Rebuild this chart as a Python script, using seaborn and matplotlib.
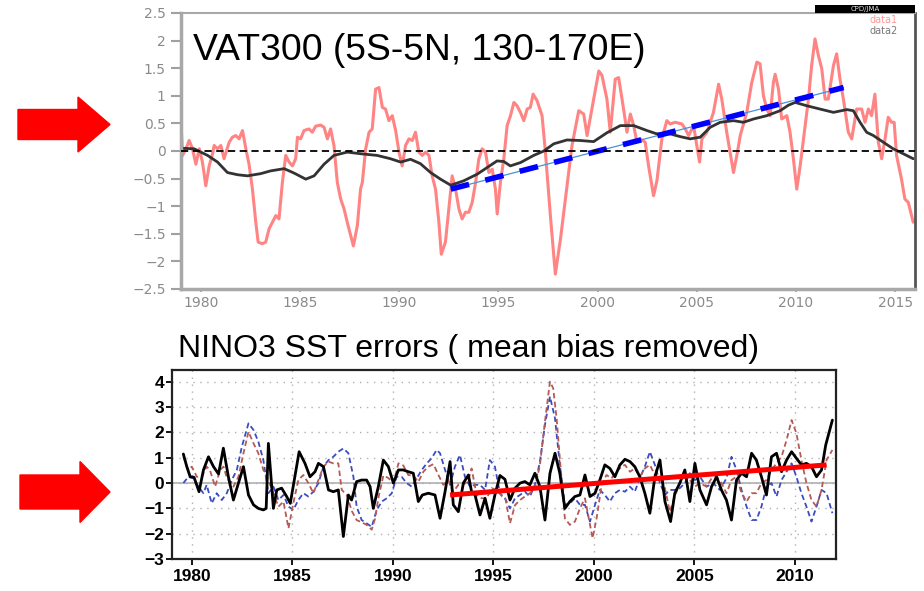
import matplotlib
matplotlib.use('Agg')
import matplotlib.pyplot as plt
import seaborn as sns
from matplotlib.patches import FancyArrow, Rectangle
from matplotlib.transforms import IdentityTransform

# ---------------- data: top panel (VAT300) ----------------
top_red_year = [1979.0, 1979.08, 1979.25, 1979.41, 1979.58, 1979.75, 1979.92, 1980.08, 1980.25, 1980.42,
                1980.59, 1980.67, 1980.84, 1981.01, 1981.17, 1981.43, 1981.59, 1981.76, 1981.93, 1982.1,
                1982.27, 1982.43, 1982.6, 1982.77, 1982.89, 1983.1, 1983.27, 1983.44, 1983.61, 1983.78,
                1983.94, 1984.11, 1984.28, 1984.45, 1984.62, 1984.78, 1984.87, 1985.03, 1985.2, 1985.45,
                1985.62, 1985.79, 1986.04, 1986.21, 1986.38, 1986.54, 1986.71, 1986.88, 1987.05, 1987.22,
                1987.38, 1987.55, 1987.69, 1987.89, 1988.05, 1988.14, 1988.31, 1988.48, 1988.64, 1988.81,
                1988.98, 1989.15, 1989.31, 1989.48, 1989.65, 1989.82, 1989.99, 1990.15, 1990.32, 1990.49,
                1990.66, 1990.82, 1990.99, 1991.16, 1991.33, 1991.5, 1991.66, 1991.83, 1992.0, 1992.12,
                1992.33, 1992.5, 1992.67, 1992.84, 1993.01, 1993.17, 1993.34, 1993.51, 1993.68, 1993.85,
                1994.01, 1994.18, 1994.35, 1994.52, 1994.69, 1994.85, 1994.94, 1995.1, 1995.27, 1995.44,
                1995.61, 1995.78, 1995.94, 1996.11, 1996.28, 1996.45, 1996.61, 1996.75, 1996.95, 1997.2,
                1997.37, 1997.62, 1997.87, 1998.13, 1998.46, 1998.71, 1999.05, 1999.3, 1999.47, 1999.8,
                2000.06, 2000.22, 2000.47, 2000.64, 2000.89, 2001.06, 2001.31, 2001.48, 2001.65, 2001.82,
                2001.98, 2002.15, 2002.4, 2002.57, 2002.82, 2002.99, 2003.24, 2003.49, 2003.66, 2003.91,
                2004.25, 2004.42, 2004.59, 2004.84, 2005.0, 2005.14, 2005.26, 2005.51, 2005.84, 2006.1,
                2006.26, 2006.51, 2006.68, 2006.85, 2007.02, 2007.19, 2007.52, 2007.77, 2008.03, 2008.19,
                2008.36, 2008.53, 2008.7, 2008.86, 2008.95, 2009.12, 2009.28, 2009.54, 2009.7, 2009.87,
                2010.04, 2010.21, 2010.38, 2010.63, 2010.79, 2010.96, 2011.13, 2011.3, 2011.47, 2011.63,
                2011.89, 2012.05, 2012.22, 2012.39, 2012.64, 2012.81, 2013.06, 2013.31, 2013.48, 2013.65,
                2013.81, 2013.98, 2014.15, 2014.32, 2014.49, 2014.65, 2014.82, 2014.95, 2015.07, 2015.32,
                2015.49, 2015.66, 2015.91]
top_red_val = [0.52, -0.08, 0.04, 0.19, 0.04, -0.24, 0.04, -0.2, -0.63, -0.27,
               -0.05, 0.1, 0.04, 0.1, -0.14, 0.16, 0.25, 0.28, 0.22, 0.37,
               0.04, -0.24, -0.69, -1.29, -1.65, -1.68, -1.65, -1.41, -1.29, -1.17,
               -1.23, -0.57, -0.08, -0.2, -0.27, -0.14, 0.25, 0.22, 0.37, 0.4,
               0.34, 0.45, 0.47, 0.43, 0.22, 0.4, 0.1, -0.57, -0.87, -1.05,
               -1.29, -1.53, -1.72, -1.35, -0.69, -0.57, 0.04, 0.34, 0.4, 1.12,
               1.15, 0.79, 0.76, 0.55, 0.64, 0.37, -0.02, -0.27, 0.1, 0.22,
               0.19, 0.34, -0.02, -0.08, -0.02, -0.08, -0.45, -0.69, -1.29, -1.87,
               -1.65, -1.05, -0.45, -0.69, -1.05, -1.23, -1.11, -1.11, -0.93, -0.57,
               -0.15, 0.04, -0.02, -0.39, -0.33, -0.69, -1.14, -0.57, -0.15, 0.46,
               0.64, 0.88, 0.82, 0.7, 0.55, 0.76, 0.79, 1.03, 0.91, 0.64,
               -0.02, -1.17, -2.23, -1.59, -0.63, 0.1, 0.73, 0.67, 0.28, 0.94,
               1.45, 1.37, 0.94, 0.34, 1.3, 1.33, 0.76, 0.34, 0.67, 0.46,
               0.16, 0.22, 0.16, -0.27, -0.81, -0.54, 0.22, 0.55, 0.49, 0.52,
               0.49, 0.4, 0.28, 0.46, 0.1, -0.2, 0.22, 0.34, 0.7, 1.21,
               0.94, 0.34, -0.02, -0.39, -0.08, 0.28, 0.7, 1.24, 1.61, 1.58,
               1.0, 0.76, 0.64, 1.24, 1.39, 1.12, 0.58, 0.64, 0.34, -0.14,
               -0.69, -0.27, 0.22, 0.94, 1.55, 2.03, 1.73, 1.49, 0.94, 0.94,
               1.55, 1.76, 1.3, 0.94, 0.34, 0.22, 0.76, 0.76, 0.52, 0.76,
               0.64, 1.03, 0.16, -0.14, 0.22, 0.61, 0.52, 0.52, -0.08, -0.51,
               -0.87, -0.93, -1.29]

top_black_year = [1979.0, 1979.66, 1980.34, 1980.84, 1981.34, 1981.85, 1982.35, 1983.02, 1983.52, 1984.2,
                  1984.7, 1985.29, 1985.71, 1986.21, 1986.71, 1987.38, 1988.06, 1988.89, 1989.56, 1990.07,
                  1990.57, 1991.07, 1991.58, 1992.08, 1992.6, 1993.25, 1993.93, 1994.43, 1994.93, 1995.27,
                  1995.6, 1996.11, 1996.78, 1997.29, 1997.79, 1998.46, 1999.13, 1999.8, 2000.47, 2001.15,
                  2001.82, 2002.49, 2002.99, 2003.66, 2004.17, 2004.67, 2005.17, 2005.68, 2006.18, 2006.85,
                  2007.35, 2007.86, 2008.53, 2009.2, 2009.62, 2009.96, 2010.54, 2011.21, 2011.89, 2012.56,
                  2012.89, 2013.23, 2013.56, 2013.9, 2014.4, 2014.9, 2015.41, 2015.91]
top_black_val = [0.05, 0.04, -0.08, -0.2, -0.39, -0.43, -0.45, -0.41, -0.36, -0.32,
                 -0.4, -0.51, -0.45, -0.24, -0.08, -0.02, -0.05, -0.08, -0.14, -0.2,
                 -0.15, -0.23, -0.39, -0.51, -0.62, -0.54, -0.42, -0.3, -0.18, -0.19,
                 -0.27, -0.21, -0.08, 0.0, 0.13, 0.2, 0.19, 0.17, 0.33, 0.46,
                 0.46, 0.37, 0.31, 0.31, 0.26, 0.22, 0.25, 0.43, 0.52, 0.55,
                 0.52, 0.58, 0.64, 0.73, 0.83, 0.88, 0.82, 0.76, 0.7, 0.75,
                 0.73, 0.52, 0.34, 0.28, 0.16, 0.04, -0.05, -0.14]

top_trend_year = [1992.6, 2012.4]
top_trend_val = [-0.69, 1.15]

top_yticks = [-2.5, -2, -1.5, -1, -0.5, 0, 0.5, 1, 1.5, 2, 2.5]
top_ylabels = ['\u22122.5', '\u22122', '\u22121.5', '\u22121', '\u22120.5', '0', '0.5', '1', '1.5', '2', '2.5']
top_xticks = [1980, 1985, 1990, 1995, 2000, 2005, 2010, 2015]

# ---------------- data: bottom panel (NINO3 SST errors) ----------------
bot_black_year = [1979.58, 1979.75, 1979.92, 1980.11, 1980.36, 1980.58, 1980.83, 1981.08, 1981.33, 1981.57,
                  1981.82, 1982.07, 1982.32, 1982.57, 1982.82, 1983.07, 1983.31, 1983.56, 1983.7, 1983.81,
                  1984.06, 1984.23, 1984.47, 1984.72, 1984.9, 1985.34, 1985.63, 1985.88, 1986.13, 1986.3,
                  1986.55, 1986.8, 1987.04, 1987.29, 1987.54, 1987.79, 1987.95, 1988.2, 1988.45, 1988.7,
                  1988.87, 1989.03, 1989.28, 1989.53, 1989.78, 1990.03, 1990.28, 1990.52, 1990.77, 1991.02,
                  1991.27, 1991.47, 1991.77, 1992.1, 1992.35, 1992.6, 1992.85, 1993.01, 1993.26, 1993.51,
                  1993.76, 1993.92, 1994.09, 1994.34, 1994.59, 1994.83, 1995.08, 1995.33, 1995.58, 1995.83,
                  1996.08, 1996.33, 1996.57, 1996.82, 1997.07, 1997.32, 1997.57, 1997.82, 1998.07, 1998.31,
                  1998.56, 1998.81, 1999.06, 1999.31, 1999.56, 1999.81, 2000.06, 2000.3, 2000.55, 2000.8,
                  2001.05, 2001.3, 2001.55, 2001.8, 2002.04, 2002.29, 2002.54, 2002.79, 2003.04, 2003.29,
                  2003.54, 2003.82, 2004.03, 2004.28, 2004.53, 2004.78, 2005.03, 2005.28, 2005.61, 2005.86,
                  2006.11, 2006.35, 2006.6, 2006.85, 2007.1, 2007.35, 2007.6, 2007.85, 2008.09, 2008.34,
                  2008.59, 2008.84, 2009.09, 2009.34, 2009.59, 2009.84, 2010.08, 2010.33, 2010.58, 2010.83,
                  2011.08, 2011.33, 2011.54, 2011.87]
bot_black_val = [1.15, 0.65, 0.25, 0.23, -0.34, 0.52, 1.04, 0.65, 0.36, 1.38,
                 0.25, -0.67, 0.0, 0.65, -0.47, -0.86, -1.0, -1.06, -1.0, 1.57,
                 -1.0, -0.27, -0.2, -0.53, -0.8, 1.24, 0.78, 0.25, 0.45, 0.78,
                 0.65, -0.27, -0.34, -0.27, -2.11, -0.47, -0.67, 0.06, 0.12, 0.12,
                 -0.14, -1.0, -0.14, 0.91, 0.65, 0.0, 0.52, 0.52, 0.45, 0.39,
                 -0.73, -0.47, -0.4, -0.47, -1.39, -0.34, 0.85, -0.86, -1.13, 0.0,
                 0.32, -0.34, -0.47, -1.26, -0.6, -1.39, -0.47, 0.3, 0.15, -0.67,
                 -0.2, 0.0, 0.06, -0.07, 0.39, -0.14, -1.46, 0.39, 1.18, 0.39,
                 -1.0, -0.73, -0.53, -0.47, 0.32, -0.53, -0.4, 0.12, 0.72, 0.58,
                 0.25, 0.72, 0.94, 0.85, 0.65, 0.25, -0.4, -1.19, 0.25, 0.91,
                 -0.73, -1.52, -0.4, 0.0, 0.52, -0.73, 0.78, -0.27, -0.86, -0.14,
                 0.25, -0.27, -0.67, -1.46, 0.12, 0.39, 0.25, 1.18, 0.91, 0.25,
                 -0.47, 1.04, 1.18, 0.45, 0.91, 1.24, 0.98, 0.72, 0.78, 0.65,
                 0.25, 0.52, 1.51, 2.49]

bot_red_year = [1979.58, 1979.83, 1980.0, 1980.25, 1980.5, 1980.74, 1980.9, 1981.16, 1981.41, 1981.58,
                1981.75, 1982.07, 1982.32, 1982.57, 1982.82, 1983.07, 1983.31, 1983.56, 1983.81, 1984.06,
                1984.31, 1984.56, 1984.81, 1985.05, 1985.3, 1985.55, 1985.8, 1986.05, 1986.3, 1986.55,
                1986.8, 1987.04, 1987.29, 1987.46, 1987.71, 1987.96, 1988.2, 1988.45, 1988.7, 1988.95,
                1989.12, 1989.28, 1989.53, 1989.78, 1990.03, 1990.28, 1990.52, 1990.77, 1991.02, 1991.27,
                1991.52, 1991.77, 1992.02, 1992.27, 1992.51, 1992.76, 1993.01, 1993.26, 1993.51, 1993.76,
                1993.92, 1994.17, 1994.42, 1994.67, 1994.92, 1995.17, 1995.41, 1995.6, 1995.83, 1996.08,
                1996.33, 1996.57, 1996.82, 1997.07, 1997.32, 1997.57, 1997.82, 1997.98, 1998.15, 1998.31,
                1998.56, 1998.81, 1999.06, 1999.31, 1999.56, 1999.81, 1999.94, 2000.14, 2000.39, 2000.63,
                2000.88, 2001.13, 2001.38, 2001.55, 2001.8, 2002.04, 2002.29, 2002.54, 2002.79, 2003.04,
                2003.29, 2003.54, 2003.78, 2004.03, 2004.28, 2004.53, 2004.78, 2005.03, 2005.28, 2005.61,
                2005.86, 2006.11, 2006.35, 2006.6, 2006.85, 2007.1, 2007.35, 2007.6, 2007.85, 2008.09,
                2008.34, 2008.59, 2008.84, 2009.09, 2009.34, 2009.59, 2009.84, 2010.08, 2010.33, 2010.58,
                2010.83, 2011.08, 2011.33, 2011.58, 2011.87]
bot_red_val = [1.04, 0.52, 0.65, 0.25, 0.25, 0.65, 0.52, -0.14, 0.52, 0.65,
               0.19, -0.14, 0.25, 1.18, 2.03, 1.57, 1.18, 0.52, 0.12, -0.4,
               -0.93, -0.73, -1.79, -0.8, 0.12, 0.32, 0.0, -0.4, 0.12, 0.65,
               0.85, 0.78, 0.78, -0.27, -0.47, -1.1, -1.46, -1.55, -1.65, -1.84,
               -1.4, -0.6, 0.3, 0.2, 0.0, 0.78, 0.7, 0.32, 0.3, 0.05,
               0.45, 0.65, 0.75, 0.32, -0.07, 0.12, -0.34, -0.07, -0.07, 0.12,
               0.58, -0.47, -0.6, -0.6, -0.2, -0.27, -0.5, -0.6, -1.59, -0.87,
               -0.67, -0.53, -0.4, -0.2, 0.72, 2.43, 4.01, 3.75, 2.56, 0.98,
               -1.39, -1.65, -1.52, -1.0, -0.6, -1.65, -2.18, -1.39, -0.07, 0.32,
               0.19, 0.45, 0.65, 0.72, 0.45, 0.58, 0.25, 0.58, 0.72, 0.32,
               0.19, -0.2, -1.13, -0.53, 0.0, 0.25, 0.12, -0.14, 0.0, -0.14,
               0.19, 0.25, 0.0, -0.4, 0.12, 0.25, -0.4, -0.73, -0.4, -0.4,
               0.0, 0.12, 0.52, 0.78, 1.04, 1.7, 2.49, 1.97, 0.91, 0.0,
               -0.67, -0.93, -0.27, 0.91, 1.31]

bot_blue_year = [1979.58, 1979.83, 1980.08, 1980.33, 1980.58, 1980.74, 1980.99, 1981.24, 1981.49, 1981.74,
                 1981.99, 1982.24, 1982.49, 1982.82, 1983.07, 1983.31, 1983.56, 1983.81, 1984.06, 1984.31,
                 1984.56, 1984.81, 1985.05, 1985.3, 1985.55, 1985.8, 1986.05, 1986.3, 1986.55, 1986.8,
                 1987.04, 1987.29, 1987.54, 1987.79, 1988.04, 1988.2, 1988.45, 1988.7, 1988.95, 1989.2,
                 1989.45, 1989.7, 1989.95, 1990.19, 1990.44, 1990.69, 1990.94, 1991.19, 1991.44, 1991.69,
                 1991.93, 1992.18, 1992.35, 1992.6, 1992.85, 1993.09, 1993.34, 1993.59, 1993.84, 1994.09,
                 1994.34, 1994.59, 1994.83, 1995.08, 1995.33, 1995.58, 1995.83, 1996.08, 1996.33, 1996.57,
                 1996.82, 1997.07, 1997.32, 1997.57, 1997.82, 1998.07, 1998.31, 1998.56, 1998.81, 1999.06,
                 1999.31, 1999.56, 1999.81, 2000.06, 2000.3, 2000.55, 2000.8, 2001.05, 2001.3, 2001.55,
                 2001.8, 2002.04, 2002.29, 2002.54, 2002.79, 2003.04, 2003.29, 2003.54, 2003.78, 2004.03,
                 2004.28, 2004.53, 2004.78, 2005.03, 2005.28, 2005.61, 2005.94, 2006.27, 2006.6, 2006.85,
                 2007.1, 2007.35, 2007.6, 2007.85, 2008.09, 2008.34, 2008.59, 2008.84, 2009.09, 2009.34,
                 2009.59, 2009.84, 2010.08, 2010.33, 2010.58, 2010.83, 2011.08, 2011.33, 2011.58, 2011.87]
bot_blue_val = [0.0, 0.25, 0.19, -0.14, -0.4, -0.07, -0.8, -0.4, -0.67, -0.4,
                0.12, 0.52, 1.44, 2.36, 2.1, 1.64, 0.91, -0.4, -0.14, -0.67,
                -0.47, -0.93, -1.06, -0.67, -0.4, -0.53, -0.34, 0.0, 0.65, 0.91,
                1.04, 1.24, 1.37, 1.18, 0.25, -0.93, -1.46, -1.59, -1.73, -1.06,
                -0.73, -0.6, -0.4, 0.25, 0.25, 0.0, -0.14, 0.19, 0.52, 0.78,
                0.98, 1.31, 1.18, 0.52, -0.07, 0.65, 1.11, 0.25, -0.14, -0.07,
                -0.07, -0.27, 0.91, 0.65, -0.4, -0.6, -1.0, -0.6, -0.47, -0.34,
                -0.53, -0.07, 0.85, 2.3, 3.42, 2.56, 0.72, -0.86, -0.8, -0.6,
                -0.86, -0.86, -1.52, -0.86, -0.27, -0.47, -0.73, -0.4, -0.27, -0.34,
                -0.14, -0.34, 0.19, 0.65, 1.24, 0.72, 0.0, -0.47, -0.27, -0.27,
                -0.2, 0.0, 0.39, 0.12, 0.25, -0.14, 0.0, -0.27, 0.19, 1.04,
                0.52, -0.27, -0.93, -1.46, -1.46, -0.93, -0.14, 0.0, -0.53, 0.12,
                0.45, 0.78, 0.25, -0.4, -0.93, -1.52, -0.93, -0.27, -0.4, -1.19]

bot_trend_year = [1992.85, 2011.58]
bot_trend_val = [-0.47, 0.72]

bot_yticks = [-3, -2, -1, 0, 1, 2, 3, 4]
bot_ylabels = ['\u22123', '\u22122', '\u22121', '0', '1', '2', '3', '4']
bot_xticks = [1980, 1985, 1990, 1995, 2000, 2005, 2010]

# ---------------- figure ----------------
sns.set_style('white')
plt.rcParams['font.family'] = ['Liberation Sans', 'DejaVu Sans']

W, H = 924, 591
fig = plt.figure(figsize=(W / 100, H / 100), dpi=100)


def frac(x0, y0, x1, y1):
    return [x0 / W, 1 - y1 / H, (x1 - x0) / W, (y1 - y0) / H]


# ---- top panel ----
ax1 = fig.add_axes(frac(181, 13, 915, 289))
sns.lineplot(x=top_red_year, y=top_red_val, ax=ax1, color='#ff6e6e', lw=2.2,
             sort=False, estimator=None, alpha=0.85)
ax1.axhline(0, color='black', lw=1.3, dashes=(4, 2.5), zorder=3)
sns.lineplot(x=top_black_year, y=top_black_val, ax=ax1, color='#333333', lw=2.0,
             sort=False, estimator=None)
sns.lineplot(x=top_trend_year, y=top_trend_val, ax=ax1, color='#4a8fd8', lw=0.9,
             sort=False, estimator=None)
sns.lineplot(x=top_trend_year, y=top_trend_val, ax=ax1, color='#0000ff', lw=4.0,
             sort=False, estimator=None)
ax1.lines[-1].set_dashes((3.4, 3.0))
ax1.lines[-1].set_solid_capstyle('butt')
ax1.set_xlim(1979.0, 2016.0)
ax1.set_ylim(-2.5, 2.5)
ax1.set_yticks(top_yticks)
ax1.set_yticklabels(top_ylabels)
ax1.set_xticks(top_xticks)
ax1.set_xticklabels([str(t) for t in top_xticks])
ax1.set_xlabel('')
ax1.set_ylabel('')
ax1.tick_params(axis='y', direction='out', length=7, width=1.5, color='#a0a0a0',
                labelcolor='#8a8a8a', labelsize=10, pad=4, left=True)
ax1.tick_params(axis='x', direction='out', length=2, width=1.2, color='#a0a0a0',
                labelcolor='#8a8a8a', labelsize=10, pad=3, bottom=True)
for lab in ax1.get_xticklabels() + ax1.get_yticklabels():
    lab.set_fontfamily('DejaVu Sans')
for side, col, lw in [('left', '#a8a8a8', 2.5), ('bottom', '#a8a8a8', 2.5),
                      ('top', '#a8a8a8', 1.5), ('right', '#555555', 2.0)]:
    ax1.spines[side].set_color(col)
    ax1.spines[side].set_linewidth(lw)
    ax1.spines[side].set_visible(True)

fig.text(193 / W, 1 - 60 / H, 'VAT300 (5S-5N, 130-170E)', fontsize=26.8,
         family='Liberation Sans', color='black', va='baseline', ha='left')

# CPD/JMA tag and legend text
fig.patches.append(Rectangle((815, H - 13), 100, 8, transform=IdentityTransform(),
                             facecolor='black', edgecolor='none', figure=fig))
fig.text(865 / W, 1 - 9 / H, 'CPD/JMA', fontsize=5, color='#dddddd', ha='center',
         va='center', family='DejaVu Sans')
fig.text(898 / W, 1 - 20 / H, 'data1', fontsize=7, color='#ff9a9a', ha='right',
         va='center', family='DejaVu Sans')
fig.text(898 / W, 1 - 31 / H, 'data2', fontsize=7, color='#777777', ha='right',
         va='center', family='DejaVu Sans')

# ---- bottom panel ----
ax2 = fig.add_axes(frac(171.7, 370, 836, 559))
ax2.set_xlim(1979.0, 2012.05)
ax2.set_ylim(-3, 4.47)
ax2.set_yticks(bot_yticks)
ax2.set_yticklabels(bot_ylabels)
ax2.set_xticks(bot_xticks)
ax2.set_xticklabels([str(t) for t in bot_xticks])
ax2.grid(True, linestyle=(0, (1, 4)), color='#b0b0b0', lw=1.0)
ax2.axhline(0, color='#b0b0b0', lw=1.2, zorder=1)
sns.lineplot(x=bot_blue_year, y=bot_blue_val, ax=ax2, color='#3b4cc0', lw=1.3,
             sort=False, estimator=None)
ax2.lines[-1].set_dashes((3, 1.8))
sns.lineplot(x=bot_red_year, y=bot_red_val, ax=ax2, color='#b65a55', lw=1.3,
             sort=False, estimator=None)
ax2.lines[-1].set_dashes((3, 1.8))
sns.lineplot(x=bot_black_year, y=bot_black_val, ax=ax2, color='black', lw=2.0,
             sort=False, estimator=None)
sns.lineplot(x=bot_trend_year, y=bot_trend_val, ax=ax2, color='#ff0000', lw=3.6,
             sort=False, estimator=None)
ax2.lines[-1].set_solid_capstyle('butt')
ax2.set_xlabel('')
ax2.set_ylabel('')
ax2.tick_params(axis='both', direction='out', length=4, width=1.3, color='black',
                labelcolor='black', labelsize=12.5, left=True, bottom=True)
ax2.tick_params(axis='y', pad=1.5)
ax2.tick_params(axis='x', pad=3)
for lab in ax2.get_xticklabels() + ax2.get_yticklabels():
    lab.set_fontfamily('Liberation Sans')
    lab.set_fontweight('bold')
for side in ['left', 'bottom', 'top', 'right']:
    ax2.spines[side].set_color('#222222')
    ax2.spines[side].set_linewidth(1.6)
    ax2.spines[side].set_visible(True)

fig.text(178 / W, 1 - 356.7 / H, 'NINO3 SST errors ( mean bias removed)', fontsize=23,
         family='Liberation Sans', color='black', va='baseline', ha='left')

# ---- red block arrows ----
fig.patches.append(FancyArrow(18, H - 124.5, 92, 0, width=30, head_width=55,
                              head_length=32, length_includes_head=True,
                              transform=IdentityTransform(), color='#ff0000',
                              figure=fig))
fig.patches.append(FancyArrow(20, H - 492, 90, 0, width=34, head_width=61,
                              head_length=30, length_includes_head=True,
                              transform=IdentityTransform(), color='#ff0000',
                              figure=fig))

fig.savefig('out.png', dpi=100)
